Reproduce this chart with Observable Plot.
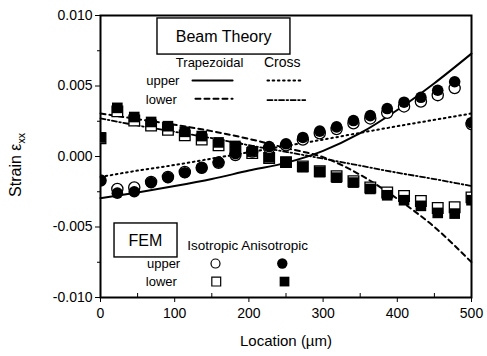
<!DOCTYPE html>
<html><head><meta charset="utf-8">
<script src="https://cdn.jsdelivr.net/npm/d3@7"></script>
<script src="https://cdn.jsdelivr.net/npm/@observablehq/plot@0.6"></script>
<style>body{margin:0;background:#fff;} svg{display:block;}</style>
</head><body><div id="chart"></div>
<script>
// ---- Data (strain values) ----
const femLocation = [0, 22.7, 45.5, 68.2, 90.9, 113.6, 136.4, 159.1, 181.8, 204.5, 227.3, 250, 272.7, 295.5, 318.2, 340.9, 363.6, 386.4, 409.1, 431.8, 454.5, 477.3, 500];
const anisoUpper = [-0.0017, -0.0026, -0.0025, -0.00185, -0.0015, -0.00115, -0.0008, -0.0004, 0.0002, 0.0004, 0.0007, 0.0009, 0.00135, 0.0018, 0.0021, 0.00255, 0.0029, 0.0034, 0.00385, 0.0042, 0.0047, 0.0053, 0.0024];
const isoUpper   = [-0.0017, -0.0023, -0.0022, -0.0018, -0.00145, -0.0011, -0.0008, -0.00045, 0.0001, 0.00035, 0.0006, 0.0008, 0.0012, 0.00165, 0.00195, 0.00235, 0.0027, 0.0031, 0.00355, 0.0039, 0.00435, 0.00485, 0.0023];
const anisoLower = [0.00135, 0.00345, 0.0028, 0.00245, 0.00215, 0.00175, 0.00145, 0.001, 0.00075, 0.00035, -0.00005, -0.0004, -0.00075, -0.0011, -0.0015, -0.00185, -0.0023, -0.00275, -0.0031, -0.0035, -0.004, -0.00405, -0.0031];
const isoLower   = [0.0013, 0.0032, 0.00255, 0.0022, 0.0019, 0.0015, 0.0012, 0.0008, 0.0006, 0.00025, -0.0001, -0.0004, -0.0007, -0.00105, -0.0014, -0.00175, -0.0022, -0.00255, -0.0028, -0.00315, -0.00365, -0.0036, -0.0029];

const beamLocation = [0, 50, 100, 150, 200, 250, 300, 350, 400, 450, 500];
const trapUpper  = [-0.00295, -0.00255, -0.0021, -0.0016, -0.001, -0.00045, 0.0004, 0.00165, 0.0033, 0.0052, 0.0073];
const trapLower  = [0.00305, 0.00265, 0.00225, 0.0018, 0.00125, 0.0006, -0.00005, -0.0013, -0.003, -0.005, -0.0075];
const crossUpper = [-0.00145, -0.001, -0.0006, -0.00015, 0.0003, 0.00075, 0.0012, 0.00168, 0.00215, 0.0026, 0.00305];
const crossLower = [0.0027, 0.0022, 0.00175, 0.0013, 0.0008, 0.00033, -0.00015, -0.00065, -0.00115, -0.0016, -0.0021];

const xTicks = [0, 100, 200, 300, 400, 500];
const xMinorTicks = [50, 150, 250, 350, 450];
const yTicks = [-0.010, -0.005, 0.000, 0.005, 0.010];
const yMinorTicks = [-0.0075, -0.0025, 0.0025, 0.0075];

// ---- Tables built from the arrays ----
const fem = femLocation.map((x, i) => ({x, aU: anisoUpper[i], iU: isoUpper[i], aL: anisoLower[i], iL: isoLower[i]}));
const beam = beamLocation.map((x, i) => ({x, tU: trapUpper[i], tL: trapLower[i], cU: crossUpper[i], cL: crossLower[i]}));

const FONT = "Liberation Sans, Arial, Helvetica, sans-serif";
const lineStyles = {
  tU: {strokeWidth: 2},
  tL: {strokeWidth: 2, strokeDasharray: "5,4"},
  cU: {strokeWidth: 2, strokeDasharray: "1.6,3.6"},
  cL: {strokeWidth: 1.8, strokeDasharray: "5,2.5,1.6,2.5"}
};

// legend layout (annotation, in data units)
const legendText = [
  {x: 166, y: 0.0085, t: "Beam Theory", s: 16, a: "middle"},
  {x: 147, y: 0.00667, t: "Trapezoidal", s: 13, a: "middle"},
  {x: 245, y: 0.00667, t: "Cross", s: 14, a: "middle"},
  {x: 84, y: 0.00539, t: "upper", s: 13, a: "middle"},
  {x: 82, y: 0.00402, t: "lower", s: 13, a: "middle"},
  {x: 60.6, y: -0.00596, t: "FEM", s: 16, a: "middle"},
  {x: 117, y: -0.0063, t: "Isotropic Anisotropic", s: 13.5, a: "start"},
  {x: 85, y: -0.00759, t: "upper", s: 13, a: "middle"},
  {x: 82, y: -0.00887, t: "lower", s: 13, a: "middle"}
];
const legendBoxes = [
  {x1: 76.8, x2: 256, y1: 0.00723, y2: 0.00979},
  {x1: 18.9, x2: 103.8, y1: -0.00716, y2: -0.00475}
];
const legendSamples = [
  {k: "tU", pts: [[124, 0.00539], [178, 0.00539]]},
  {k: "cU", pts: [[225, 0.00539], [272, 0.00539]]},
  {k: "tL", pts: [[128, 0.0041], [178, 0.0041]]},
  {k: "cL", pts: [[225, 0.0040], [276, 0.0040]]}
];

const marks = [
  Plot.frame({strokeWidth: 2}),
  Plot.axisY(yTicks, {tickSize: 5, tickPadding: 3, tickFormat: d => d.toFixed(3), fontSize: 14, label: null}),
  Plot.axisY(yMinorTicks, {tickSize: 3, tickFormat: () => "", label: null}),
  Plot.axisX(xTicks, {tickSize: 5, tickPadding: 6, fontSize: 14, label: null}),
  Plot.axisX(xMinorTicks, {tickSize: -4, tickFormat: () => "", label: null}),
  Plot.text(["Location (µm)"], {text: d => d, frameAnchor: "bottom", dy: 48, fontSize: 15})
];
for (const k of ["tU", "tL", "cU", "cL"]) {
  marks.push(Plot.line(beam, {x: "x", y: k, curve: "monotone-x", stroke: "black", ...lineStyles[k]}));
}
marks.push(
  Plot.dot(fem, {x: "x", y: "iL", symbol: "square", r: 6, fill: "white", stroke: "black", strokeWidth: 1.3, clip: true}),
  Plot.dot(fem, {x: "x", y: "aL", symbol: "square", r: 6, fill: "black", clip: true}),
  Plot.dot(fem, {x: "x", y: "iU", r: 5.6, fill: "white", stroke: "black", strokeWidth: 1.3, clip: true}),
  Plot.dot(fem, {x: "x", y: "aU", r: 5.8, fill: "black", clip: true}),
  // legends
  Plot.rect(legendBoxes, {x1: "x1", x2: "x2", y1: "y1", y2: "y2", fill: "white", stroke: "black", strokeWidth: 1.4}),
  Plot.text(legendText, {x: "x", y: "y", text: "t", fontSize: d => d.s, textAnchor: "start", filter: d => d.a === "start"}),
  Plot.text(legendText, {x: "x", y: "y", text: "t", fontSize: d => d.s, filter: d => d.a === "middle"}),
  ...legendSamples.map(s => Plot.line(s.pts, {stroke: "black", ...lineStyles[s.k]})),
  Plot.dot([[155, -0.00759]], {r: 4.5, fill: "white", stroke: "black", strokeWidth: 1.2}),
  Plot.dot([[245, -0.00759]], {r: 5.2, fill: "black"}),
  Plot.dot([[156, -0.00887]], {symbol: "square", r: 5, fill: "white", stroke: "black", strokeWidth: 1.2}),
  Plot.dot([[248, -0.00887]], {symbol: "square", r: 5.5, fill: "black"})
);

const chart = Plot.plot({
  width: 487, height: 356,
  marginLeft: 100, marginRight: 16, marginTop: 15, marginBottom: 59,
  style: {fontFamily: FONT, color: "black", background: "white", overflow: "visible"},
  x: {domain: [0, 500]},
  y: {domain: [-0.010, 0.010]},
  marks
});

// y-axis title with subscript
const svg = d3.select(chart);
const lab = svg.append("text")
  .attr("transform", "translate(21,165) rotate(-90)")
  .attr("text-anchor", "middle")
  .attr("font-size", 16)
  .attr("font-family", FONT)
  .attr("fill", "black");
lab.append("tspan").text("Strain ε");
lab.append("tspan").attr("dy", 4).attr("font-size", 10.5).text("xx");

document.getElementById("chart").appendChild(chart);
</script>
</body></html>
